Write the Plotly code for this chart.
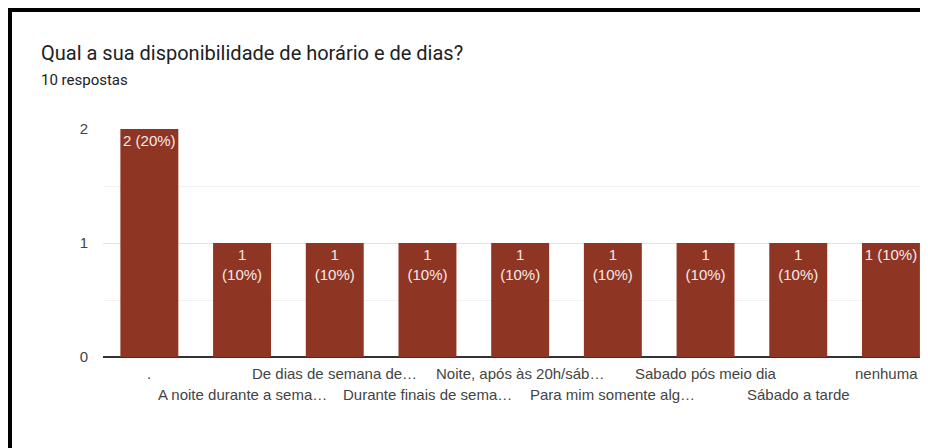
import plotly.graph_objects as go

categories = [".", "A noite durante a sema…", "De dias de semana de…", "Durante finais de sema…",
              "Noite, após às 20h/sáb…", "Para mim somente alg…", "Sabado pós meio dia",
              "Sábado a tarde", "nenhuma"]
counts = [2, 1, 1, 1, 1, 1, 1, 1, 1]
total = 10
bar_labels = ["2 (20%)", "1<br>(10%)", "1<br>(10%)", "1<br>(10%)", "1<br>(10%)",
              "1<br>(10%)", "1<br>(10%)", "1<br>(10%)", "1 (10%)"]
y_ticks = [0, 1, 2]

# page body has an 8px margin, so work in reference pixels minus 8
OFF = 8
W, H = 928 - 2 * OFF, 448 - OFF
L, R, T = 103 - OFF, 0, 129 - OFF
B = H - (357 - OFF)
pw, ph = W - L - R, H - T - B
cat_px = 92.7  # pixel spacing of categories in the reference
x_hi = -0.5 + pw / cat_px

def px_x(px):
    return (px - OFF - L) / pw

def px_y(py):
    return (H - B - (py - OFF)) / ph

fig = go.Figure()
fig.add_trace(go.Bar(
    x=list(range(len(categories))), y=counts, text=bar_labels,
    textposition="inside", insidetextanchor="end", textangle=0,
    constraintext="none",
    textfont=dict(family="Liberation Sans, Arial", size=15, color="#f6ebe9"),
    marker=dict(color="#8f3524", line=dict(width=0)),
    width=0.625, hoverinfo="skip",
))

annotations = []
for i, c in enumerate(categories):
    annotations.append(dict(
        x=i, y=px_y(373 if i % 2 == 0 else 394), xref="x", yref="paper",
        text=c, showarrow=False, xanchor="center", yanchor="middle",
        xshift=-4 if i == len(categories) - 1 else 0,
        font=dict(family="Liberation Sans, Arial", size=15, color="#444444"),
    ))
annotations.append(dict(
    x=px_x(39), y=px_y(53), xref="paper", yref="paper", xanchor="left", yanchor="middle",
    text="Qual a sua disponibilidade de horário e de dias?", showarrow=False,
    font=dict(family="Roboto", size=20, color="#202124"),
))
annotations.append(dict(
    x=px_x(39), y=px_y(80), xref="paper", yref="paper", xanchor="left", yanchor="middle",
    text=f"{total} respostas", showarrow=False,
    font=dict(family="Roboto", size=15, color="#202124"),
))

shapes = [
    dict(type="line", xref="paper", yref="paper", x0=px_x(8), x1=px_x(928), y0=px_y(10), y1=px_y(10),
         line=dict(color="#000000", width=4)),
    dict(type="line", xref="paper", yref="paper", x0=px_x(10), x1=px_x(10), y0=px_y(8), y1=px_y(448),
         line=dict(color="#000000", width=4)),
]

fig.update_layout(
    width=W, height=H, margin=dict(l=L, r=R, t=T, b=B),
    paper_bgcolor="white", plot_bgcolor="white", showlegend=False,
    annotations=annotations, shapes=shapes,
    xaxis=dict(range=[-0.5, x_hi], showticklabels=False, showgrid=False, zeroline=False,
               showline=False, fixedrange=True),
    yaxis=dict(range=[0, 2], tickvals=y_ticks, ticktext=[str(v) for v in y_ticks],
               showgrid=True, gridcolor="#e3e3e3", gridwidth=1,
               minor=dict(dtick=0.5, showgrid=True, gridcolor="#f2f2f2", gridwidth=1),
               zeroline=True, zerolinecolor="#333333", zerolinewidth=2,
               ticklabelstandoff=14,
               tickfont=dict(family="Liberation Sans, Arial", size=15, color="#444444"),
               fixedrange=True),
)

fig.write_html("out.html")
